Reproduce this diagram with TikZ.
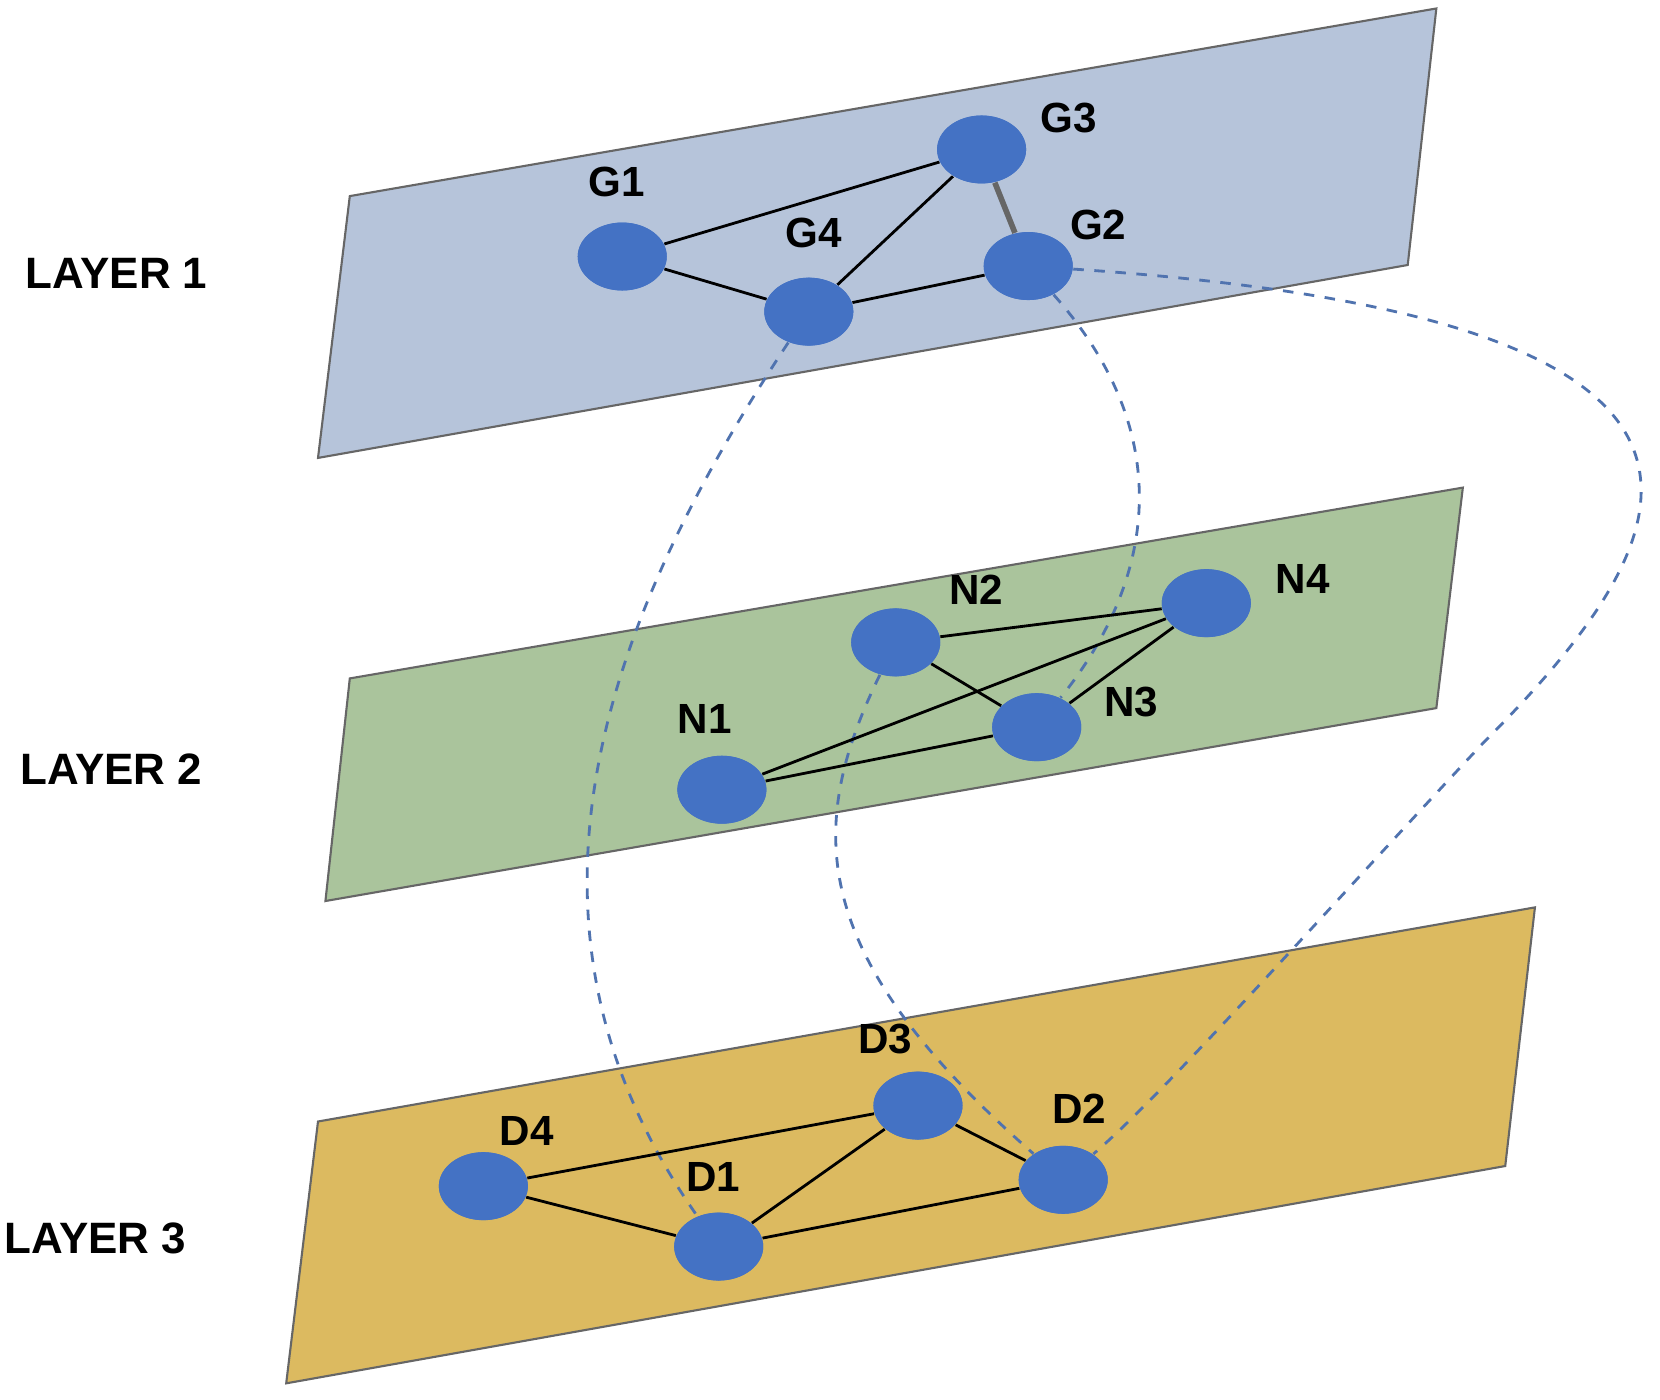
\documentclass[tikz,border=0pt]{standalone}
\usepackage{fontspec}
\setmainfont{Liberation Sans}
\usetikzlibrary{shapes.geometric}
\definecolor{nodeblue}{RGB}{68,114,196}
\definecolor{layerblue}{RGB}{182,196,218}
\definecolor{layergreen}{RGB}{170,196,156}
\definecolor{layergold}{RGB}{220,186,96}
\definecolor{linkblue}{RGB}{80,115,175}
\tikzset{
  vertex/.style={ellipse, fill=nodeblue, minimum width=0.89cm, minimum height=0.68cm, inner sep=0pt},
  lbl/.style={font=\bfseries\fontsize{12}{12}\selectfont},
  layerlbl/.style={font=\bfseries\fontsize{12.5}{12.5}\selectfont},
  plane/.style={draw=black!60, line width=0.6pt},
  edge/.style={line width=0.8pt},
  link/.style={dashed, linkblue, line width=0.8pt}
}
\begin{document}
\begin{tikzpicture}[x=0.106mm, y=-0.106mm]

  \useasboundingbox (0,0) rectangle (1566,1320);

  % planes
  \draw[plane, fill=layerblue] (330,185) -- (1355,8) -- (1328,250) -- (300,432) -- cycle;
  \draw[plane, fill=layergreen] (330,640) -- (1380,460) -- (1355,668) -- (307,850) -- cycle;
  \draw[plane, fill=layergold] (300,1058) -- (1448,856) -- (1420,1100) -- (270,1305) -- cycle;

  \node[layerlbl] (l1) at (110,258) {LAYER 1};
  \node[layerlbl] (l2) at (105,726) {LAYER 2};
  \node[layerlbl] (l3) at (90,1168) {LAYER 3};

  % nodes
  \node[vertex] (G1) at (587,242) {};
  \node[vertex] (G3) at (926,141) {};
  \node[vertex] (G2) at (970,251) {};
  \node[vertex] (G4) at (763,294) {};
  \node[vertex] (N2) at (845,606) {};
  \node[vertex] (N4) at (1138,569) {};
  \node[vertex] (N3) at (978,686) {};
  \node[vertex] (N1) at (681,745) {};
  \node[vertex] (D4) at (456,1119) {};
  \node[vertex] (D3) at (866,1043) {};
  \node[vertex] (D2) at (1003,1113) {};
  \node[vertex] (D1) at (678,1176) {};

  \node[lbl] at (582,172) {G1};
  \node[lbl] at (1008,111) {G3};
  \node[lbl] at (768,220) {G4};
  \node[lbl] at (1036,212) {G2};
  \node[lbl] at (921,556) {N2};
  \node[lbl] at (1229,546) {N4};
  \node[lbl] at (1067,662) {N3};
  \node[lbl] at (665,678) {N1};
  \node[lbl] at (835,980) {D3};
  \node[lbl] at (497,1067) {D4};
  \node[lbl] at (1018,1046) {D2};
  \node[lbl] at (673,1110) {D1};

  % inter-layer links
  \draw[link] (G4) .. controls (560,600) and (470,880) .. (D1);
  \draw[link] (G2) .. controls (1120,420) and (1080,560) .. (N3);
  \draw[link] (N2) .. controls (760,780) and (760,900) .. (D2);
  \draw[link] (G2) .. controls (1700,300) and (1600,500) .. (1400,700)
                   .. controls (1250,860) and (1100,1030) .. (D2);

  % intra-layer edges
  \draw[edge] (G1) -- (G3);
  \draw[edge] (G1) -- (G4);
  \draw[edge] (G4) -- (G3);
  \draw[edge] (G4) -- (G2);
  \draw[edge, black!60, line width=1.6pt] (G3) -- (G2);
  \draw[edge] (N2) -- (N4);
  \draw[edge] (N2) -- (N3);
  \draw[edge] (N1) -- (N4);
  \draw[edge] (N1) -- (N3);
  \draw[edge] (N3) -- (N4);
  \draw[edge] (D4) -- (D3);
  \draw[edge] (D4) -- (D1);
  \draw[edge] (D1) -- (D3);
  \draw[edge] (D3) -- (D2);
  \draw[edge] (D1) -- (D2);

  % nodes on top
  \foreach \n in {G1,G2,G3,G4,N1,N2,N3,N4,D1,D2,D3,D4}
    \fill[nodeblue] (\n.center) ellipse [x radius=42, y radius=32];

\end{tikzpicture}
\end{document}
